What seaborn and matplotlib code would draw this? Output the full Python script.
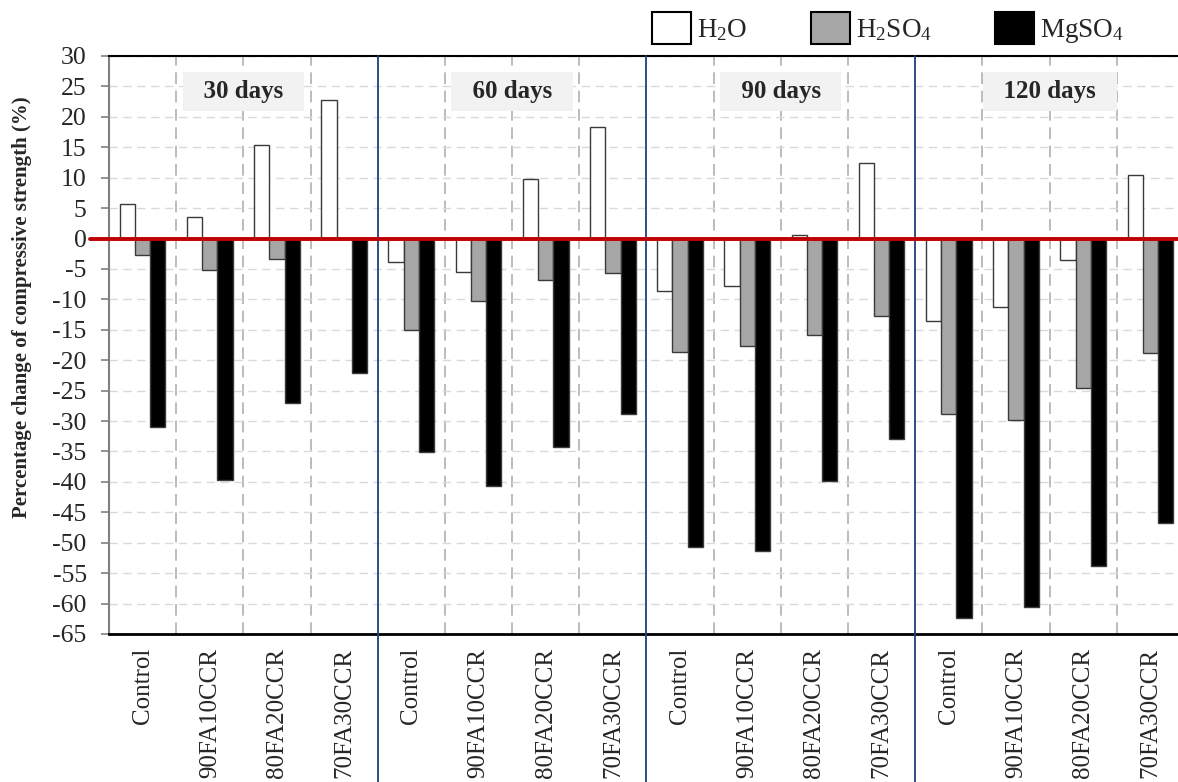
import pandas as pd
import numpy as np
import matplotlib.pyplot as plt
import seaborn as sns
from matplotlib.patches import Patch

ages = ["30 days", "60 days", "90 days", "120 days"]
mixes = ["Control", "90FA10CCR", "80FA20CCR", "70FA30CCR"]
solutions = ["H$_2$O", "H$_2$SO$_4$", "MgSO$_4$"]

h2o = [5.7, 3.5, 15.4, 22.7, -3.9, -5.5, 9.7, 18.3,
       -8.6, -7.8, 0.6, 12.4, -13.5, -11.3, -3.5, 10.5]
h2so4 = [-2.7, -5.1, -3.3, 0.0, -15.1, -10.3, -6.9, -5.7,
         -18.6, -17.7, -15.9, -12.8, -28.9, -29.8, -24.5, -18.9]
mgso4 = [-31.0, -39.7, -27.0, -22.1, -35.1, -40.6, -34.3, -28.8,
         -50.7, -51.3, -39.9, -33.0, -62.4, -60.5, -53.8, -46.8]

keys = [f"{a}|{m}" for a in ages for m in mixes]
df = pd.DataFrame({
    "key": keys * 3,
    "solution": np.repeat(solutions, len(keys)),
    "value": h2o + h2so4 + mgso4,
})

sns.set_style("white")
plt.rcParams["font.family"] = ["Liberation Serif", "DejaVu Serif"]
plt.rcParams["mathtext.fontset"] = "custom"
plt.rcParams["mathtext.rm"] = "Liberation Serif"
plt.rcParams["mathtext.it"] = "Liberation Serif:italic"
plt.rcParams["mathtext.bf"] = "Liberation Serif:bold"
plt.rcParams["axes.unicode_minus"] = False

colors = {"H$_2$O": "white", "H$_2$SO$_4$": "#a6a6a6", "MgSO$_4$": "black"}

fig = plt.figure(figsize=(11.78, 7.82), dpi=100)
ax = fig.add_axes([0.0925, 0.1893, 0.9126, 0.7391])

sns.barplot(data=df, x="key", y="value", hue="solution", order=keys,
            hue_order=solutions, palette=colors, width=0.68,
            edgecolor="#3a3a3a", linewidth=1, errorbar=None,
            legend=False, ax=ax, zorder=3)

ax.set_xlim(-0.5, len(keys) - 0.5)
ax.set_ylim(-65, 30)
ax.set_yticks(range(-65, 31, 5))
ax.set_xticks(range(len(keys)))
ax.set_xticklabels(mixes * len(ages), rotation=90, fontsize=18)
ax.tick_params(axis="x", length=0, pad=10)
ax.tick_params(axis="y", labelsize=18.5, length=6, color="#808080",
               width=1.2, pad=10, left=True)
ax.set_xlabel("")
ax.set_ylabel("Percentage change of compressive strength (%)",
              fontsize=15, fontweight="bold")
ax.yaxis.set_label_coords(-0.072, 0.566)

# grid
ax.set_axisbelow(True)
ax.yaxis.grid(True, linestyle=(0, (6, 4)), color="#d9d9d9", lw=1)
for i in range(len(keys) - 1):
    if (i + 1) % 4 == 0:
        ax.axvline(i + 0.5, ymin=-0.27, ymax=1, color="#203f7a", lw=1.3,
                   clip_on=False, zorder=4)
    else:
        ax.axvline(i + 0.5, color="#b0b0b0", lw=1.2,
                   linestyle=(0, (7, 4)), zorder=0.5)

ax.axhline(0, xmin=-0.018, xmax=1, color="#c00000", lw=2.8,
           clip_on=False, zorder=5)

for s in ["top", "bottom"]:
    ax.spines[s].set_color("black")
ax.spines["top"].set_linewidth(1.5)
ax.spines["bottom"].set_linewidth(2)
ax.spines["left"].set_color("#808080")
ax.spines["left"].set_linewidth(1.5)
ax.spines["right"].set_visible(False)

# age labels
for g, a in enumerate(ages):
    ax.text(g * 4 + 1.5, 24.2, f"  {a}  ", ha="center", va="center",
            fontsize=18, fontweight="bold", zorder=2,
            bbox=dict(boxstyle="square,pad=0.33", fc="#f2f2f2", ec="none"))

handles = [Patch(facecolor=colors[s], edgecolor="black", lw=1.5)
           for s in solutions]
fig.legend(handles, solutions, loc="center left",
           bbox_to_anchor=(0.5535, 0.9636), frameon=False, ncol=3,
           fontsize=19.5, handlelength=1.44, handleheight=1.44,
           handletextpad=0.22, columnspacing=2.33, borderpad=0,
           borderaxespad=0)

fig.savefig("out.png", dpi=100)
plt.close()
